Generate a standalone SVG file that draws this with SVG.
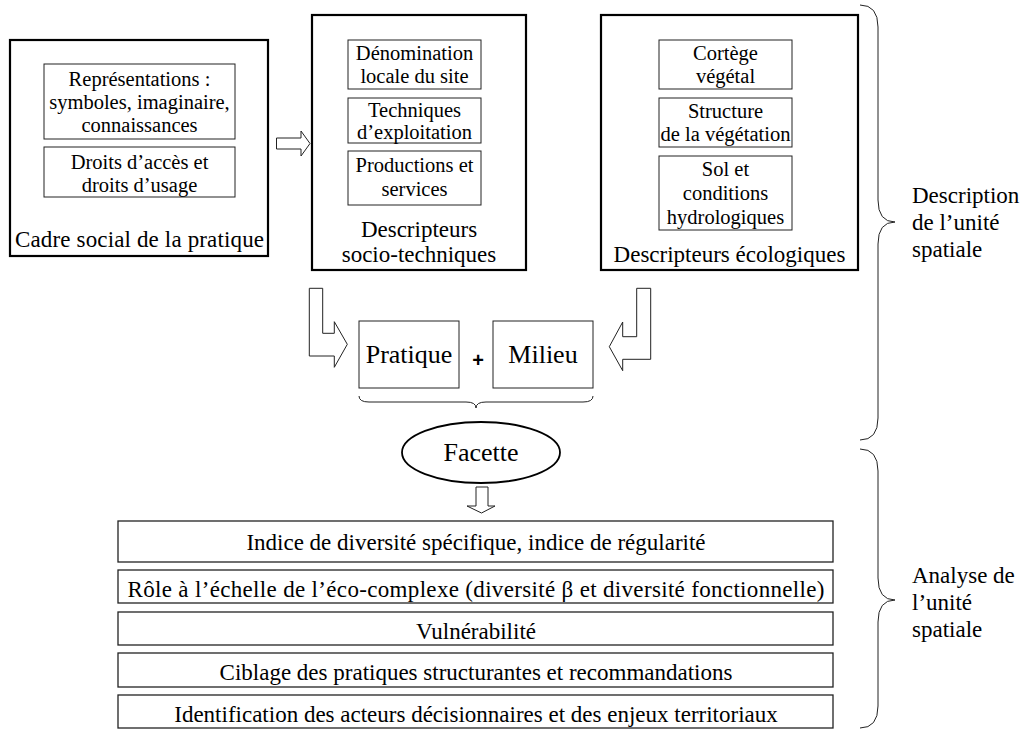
<svg xmlns="http://www.w3.org/2000/svg" width="1024" height="730" viewBox="0 0 1024 730">
<style>
text{font-family:"Liberation Serif","Times New Roman",serif;fill:#000;text-anchor:middle}
.s20{font-size:20.5px}
.s23{font-size:23px}
.s26{font-size:26px}
.outer{fill:#fff;stroke:#000;stroke-width:2.2}
.inner{fill:#fff;stroke:#222;stroke-width:1}
.row{fill:#fff;stroke:#222;stroke-width:1.3}
.arr{fill:#fff;stroke:#222;stroke-width:1}
.brace{fill:none;stroke:#222;stroke-width:1}
.lbl{text-anchor:start;font-size:23px}
</style>
<rect width="1024" height="730" fill="#fff"/>

<g id="node-cadre">
<rect class="outer" x="10" y="40" width="258" height="216"/>
<rect class="inner" x="44" y="64" width="191" height="75"/>
<text class="s20" x="139.5" y="86">Représentations :</text>
<text class="s20" x="139.5" y="109">symboles, imaginaire,</text>
<text class="s20" x="139.5" y="132">connaissances</text>
<rect class="inner" x="44" y="147" width="191" height="50"/>
<text class="s20" x="139.5" y="169">Droits d’accès et</text>
<text class="s20" x="139.5" y="192">droits d’usage</text>
<text class="s23" x="139.5" y="247" textLength="249" lengthAdjust="spacing">Cadre social de la pratique</text>
</g>

<g id="node-socio">
<rect class="outer" x="312" y="15" width="214" height="255"/>
<rect class="inner" x="348" y="40" width="133" height="49"/>
<text class="s20" x="414.5" y="60">Dénomination</text>
<text class="s20" x="414.5" y="83">locale du site</text>
<rect class="inner" x="348" y="98" width="133" height="45"/>
<text class="s20" x="414.5" y="117">Techniques</text>
<text class="s20" x="414.5" y="139">d’exploitation</text>
<rect class="inner" x="348" y="151" width="133" height="54"/>
<text class="s20" x="414.5" y="172">Productions et</text>
<text class="s20" x="414.5" y="196">services</text>
<text class="s23" x="419" y="237">Descripteurs</text>
<text class="s23" x="419" y="262">socio-techniques</text>
</g>

<g id="node-eco">
<rect class="outer" x="601" y="15" width="257" height="255"/>
<rect class="inner" x="659" y="40" width="133" height="49"/>
<text class="s20" x="725.5" y="60">Cortège</text>
<text class="s20" x="725.5" y="83">végétal</text>
<rect class="inner" x="659" y="98" width="133" height="49"/>
<text class="s20" x="725.5" y="118">Structure</text>
<text class="s20" x="725.5" y="141" textLength="130" lengthAdjust="spacingAndGlyphs">de la végétation</text>
<rect class="inner" x="659" y="156" width="133" height="74"/>
<text class="s20" x="725.5" y="176">Sol et</text>
<text class="s20" x="725.5" y="200">conditions</text>
<text class="s20" x="725.5" y="224">hydrologiques</text>
<text class="s23" x="729.5" y="262">Descripteurs écologiques</text>
</g>

<g id="node-pratique">
<rect class="inner" x="359" y="321" width="100" height="67"/>
<text class="s26" x="409" y="363">Pratique</text>
</g>
<text x="478" y="367" style="font-family:'Liberation Sans',Arial,sans-serif;font-weight:bold;font-size:20px">+</text>
<g id="node-milieu">
<rect class="inner" x="493" y="321" width="100" height="67"/>
<text class="s26" x="543" y="363">Milieu</text>
</g>

<g id="node-facette">
<ellipse cx="481" cy="452.5" rx="79" ry="30.5" fill="#fff" stroke="#000" stroke-width="1.8"/>
<text class="s26" x="481" y="461">Facette</text>
</g>

<g id="node-analyse">
<rect class="row" x="118" y="521" width="715" height="41"/>
<text class="s23" x="476" y="550">Indice de diversité spécifique, indice de régularité</text>
<rect class="row" x="118" y="570" width="715" height="33"/>
<text class="s23" x="476" y="597" textLength="697" lengthAdjust="spacing">Rôle à l’échelle de l’éco-complexe (diversité β et diversité fonctionnelle)</text>
<rect class="row" x="118" y="612" width="715" height="33"/>
<text class="s23" x="476" y="639">Vulnérabilité</text>
<rect class="row" x="118" y="653" width="715" height="34"/>
<text class="s23" x="476" y="680">Ciblage des pratiques structurantes et recommandations</text>
<rect class="row" x="118" y="695" width="715" height="33"/>
<text class="s23" x="476" y="722">Identification des acteurs décisionnaires et des enjeux territoriaux</text>
</g>

<g id="connectors">
<path class="arr" d="M276.5,138 H301 V131 L310,143.5 L301,156 V149 H276.5 Z"/>
<path class="arr" d="M309.3,288.3 H322.7 V333.3 H334.3 V321.7 L347.3,344.3 L334.3,367.3 V356 H309.3 Z"/>
<path class="arr" d="M636.7,288.3 H650.7 V359.3 H622.7 V370.7 L609.3,346.7 L622.7,322 V336.7 H636.7 Z"/>
<path class="arr" d="M476,487 H488 V506 H495 L481.5,513 L467,506 H476 Z"/>
</g>

<g id="brace-facette">
<path class="brace" d="M359,396 Q359,402 369,402 L466,402 Q476,402 476,408 Q476,402 486,402 L583,402 Q593,402 593,396"/>
</g>

<g id="brace-description">
<path class="brace" d="M860,5 Q878,5 878,27 L878,200 Q878,222 895,222 Q878,222 878,244 L878,418 Q878,440 860,440"/>
<text class="lbl" x="912" y="203">Description</text>
<text class="lbl" x="912" y="230">de l’unité</text>
<text class="lbl" x="912" y="257">spatiale</text>
</g>

<g id="brace-analyse">
<path class="brace" d="M860,449 Q878,449 878,471 L878,578 Q878,600 895,600 Q878,600 878,622 L878,706 Q878,728 860,728"/>
<text class="lbl" x="912" y="583">Analyse de</text>
<text class="lbl" x="912" y="610">l’unité</text>
<text class="lbl" x="912" y="637">spatiale</text>
</g>
</svg>
